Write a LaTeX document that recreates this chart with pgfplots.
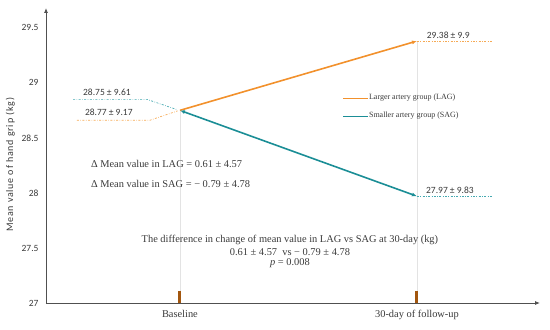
\documentclass[border=0pt]{standalone}
\usepackage{fontspec}
\setmainfont{Liberation Serif}
\newfontfamily\calfont{Carlito}
\usepackage{pgfplots}
\pgfplotsset{compat=1.18}
\usetikzlibrary{arrows.meta}
\definecolor{lagc}{HTML}{F2912C}
\definecolor{sagc}{HTML}{1B8E96}
\definecolor{lagl}{HTML}{F6AA55}
\definecolor{sagl}{HTML}{45A9B1}
\definecolor{brn}{HTML}{A2560E}
\definecolor{axc}{HTML}{505050}
\definecolor{txt}{HTML}{3A3A3A}
\begin{document}
\begin{tikzpicture}
\begin{axis}[
  width=494pt, height=295pt, scale only axis,
  xmin=0.435, xmax=2.519, ymin=27, ymax=29.68,
  axis lines=left,
  axis line style={axc, line width=0.8pt, -{Latex[length=5pt,width=4pt]}},
  xtick={1,2}, xticklabels={Baseline,30-day of follow-up},
  ytick={27,27.5,28,28.5,29,29.5},
  yticklabels={27,27.5,28,28.5,29,29.5},
  major tick length=0pt,
  /pgf/number format/assume math mode=true,
  xticklabel style={font=\fontsize{10.4}{12}\selectfont, text=txt, yshift=-4pt},
  yticklabel style={font=\calfont\fontsize{9.5}{11}\selectfont, text=txt, xshift=-4pt},
  ylabel={Mean value of hand grip (kg)},
  ylabel style={font=\calfont\fontsize{10}{12}\selectfont\addfontfeature{LetterSpace=8}, text=txt, at={(ticklabel cs:0.468)}},
  clip=false,
]
% vertical guide lines
\addplot[gray!22, line width=0.6pt] coordinates {(1,27) (1,28.75)};
\addplot[gray!22, line width=0.6pt] coordinates {(2,27) (2,29.38)};
% brown markers
\addplot[brn, line width=3pt] coordinates {(1,27) (1,27.11)};
\addplot[brn, line width=3pt] coordinates {(2,27) (2,27.11)};
% leader lines
\addplot[sagl, line width=0.7pt, dash pattern=on 2pt off 1.5pt on 0.6pt off 1.5pt] coordinates {(0.549,28.85) (0.861,28.85) (0.99,28.755)};
\addplot[lagl, line width=0.7pt, dash pattern=on 2pt off 1.5pt on 0.6pt off 1.5pt] coordinates {(0.565,28.66) (0.873,28.66) (0.99,28.745)};
\addplot[lagl, line width=0.7pt, dash pattern=on 2pt off 1.5pt on 0.6pt off 1.5pt] coordinates {(2,29.38) (2.32,29.38)};
\addplot[sagl, line width=0.7pt, dash pattern=on 2pt off 1.5pt on 0.6pt off 1.5pt] coordinates {(2,27.97) (2.32,27.97)};
% main lines
\addplot[lagc, line width=1.6pt, -{Latex[length=5pt,width=4pt]}] coordinates {(1,28.75) (2,29.38)};
\addplot[sagc, line width=1.6pt, {Latex[length=5pt,width=4pt]}-{Latex[length=5pt,width=4pt]}] coordinates {(1,28.75) (2,27.97)};
% legend
\addplot[lagc, line width=1.2pt] coordinates {(1.688,28.855) (1.793,28.855)};
\addplot[sagc, line width=1.2pt] coordinates {(1.688,28.691) (1.793,28.691)};
\node[anchor=west, inner sep=0pt, font=\fontsize{8}{9}\selectfont, text=txt] at (axis cs:1.797,28.865) {Larger artery group (LAG)};
\node[anchor=west, inner sep=0pt, font=\fontsize{8}{9}\selectfont, text=txt] at (axis cs:1.797,28.70) {Smaller artery group (SAG)};
% value labels
\node[inner sep=0pt, font=\calfont\fontsize{9.5}{11}\selectfont, text=txt] at (axis cs:0.692,28.918) {28.75 ± 9.61};
\node[inner sep=0pt, font=\calfont\fontsize{9.5}{11}\selectfont, text=txt] at (axis cs:0.70,28.736) {28.77 ± 9.17};
\node[inner sep=0pt, font=\calfont\fontsize{9.5}{11}\selectfont, text=txt] at (axis cs:2.132,29.436) {29.38 ± 9.9};
\node[inner sep=0pt, font=\calfont\fontsize{9.5}{11}\selectfont, text=txt] at (axis cs:2.139,28.027) {27.97 ± 9.83};
% delta text
\node[anchor=west, inner sep=0pt, font=\fontsize{10.4}{12}\selectfont, text=txt] at (axis cs:0.624,28.265) {Δ Mean value in LAG = 0.61 ± 4.57};
\node[anchor=west, inner sep=0pt, font=\fontsize{10.4}{12}\selectfont, text=txt] at (axis cs:0.624,28.085) {Δ Mean value in SAG = − 0.79 ± 4.78};
% central block
\node[inner sep=0pt, font=\fontsize{10.4}{12}\selectfont, text=txt] at (axis cs:1.464,27.573) {The difference in change of mean value in LAG vs SAG at 30-day (kg)};
\node[inner sep=0pt, font=\fontsize{10.4}{12}\selectfont, text=txt] at (axis cs:1.464,27.464) {0.61 ± 4.57\ \ vs − 0.79 ± 4.78};
\node[inner sep=0pt, font=\fontsize{10.4}{12}\selectfont, text=txt] at (axis cs:1.464,27.364) {\textit{p} = 0.008};
\end{axis}
\pgfresetboundingbox
\path[use as bounding box] ([xshift=-46pt,yshift=-26pt]current axis.south west) rectangle ([xshift=10pt,yshift=8pt]current axis.north east);
\end{tikzpicture}
\end{document}
